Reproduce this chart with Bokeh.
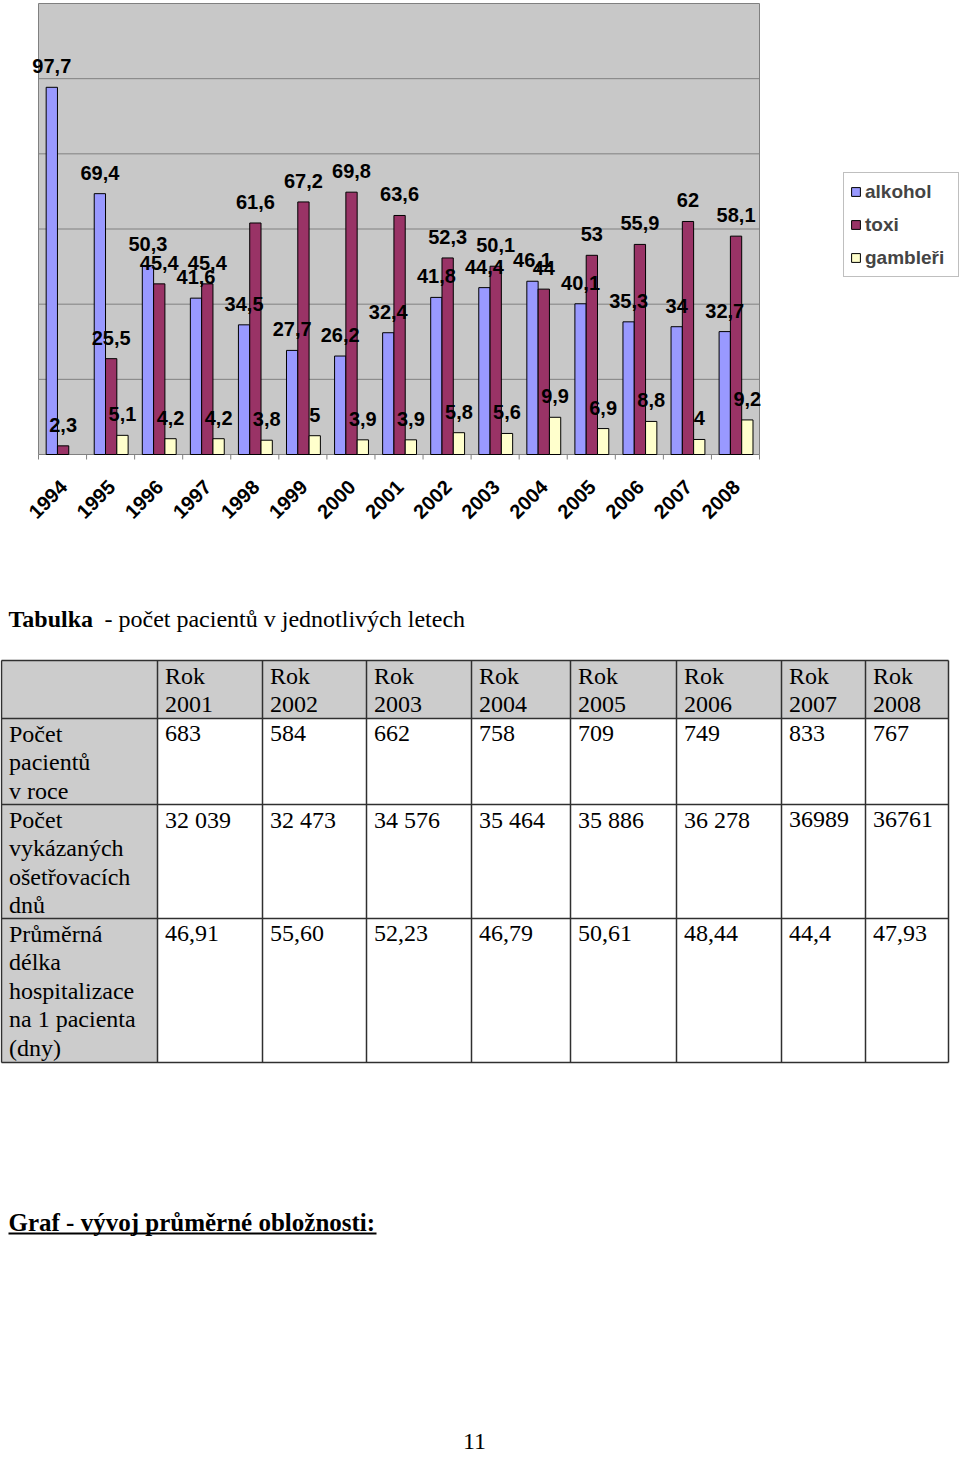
import math
from bokeh.plotting import figure
from bokeh.models import Range1d, Legend, LegendItem, ColumnDataSource
from bokeh.embed import file_html
from bokeh.resources import INLINE
from bokeh.core.properties import value
from bokeh.transform import dodge

# ---------------- data ----------------
roky = ["1994", "1995", "1996", "1997", "1998", "1999", "2000", "2001",
        "2002", "2003", "2004", "2005", "2006", "2007", "2008"]
alkohol = [97.7, 69.4, 50.3, 41.6, 34.5, 27.7, 26.2, 32.4, 41.8, 44.4, 46.1, 40.1, 35.3, 34, 32.7]
toxi = [2.3, 25.5, 45.4, 45.4, 61.6, 67.2, 69.8, 63.6, 52.3, 50.1, 44, 53, 55.9, 62, 58.1]
gambleri = [float("nan"), 5.1, 4.2, 4.2, 3.8, 5, 3.9, 3.9, 5.8, 5.6, 9.9, 6.9, 8.8, 4, 9.2]
serie_nazvy = ["alkohol", "toxi", "gambleři"]
y_mrizka = [20, 40, 60, 80, 100]
y_max = 120

tab_roky = ["2001", "2002", "2003", "2004", "2005", "2006", "2007", "2008"]
tab_pacienti = ["683", "584", "662", "758", "709", "749", "833", "767"]
tab_dny = ["32 039", "32 473", "34 576", "35 464", "35 886", "36 278", "36989", "36761"]
tab_delka = ["46,91", "55,60", "52,23", "46,79", "50,61", "48,44", "44,4", "47,93"]
tab_radky = ["Počet\npacientů\nv roce",
             "Počet\nvykázaných\nošetřovacích\ndnů",
             "Průměrná\ndélka\nhospitalizace\nna 1 pacienta\n(dny)"]

SANS = "Liberation Sans"
SERIF = "Liberation Serif"
MID = 8  # distance from a serif text's baseline to its middle, px

# ---------------- page figure ----------------
W, H = 960, 1458
p = figure(width=W, height=H, x_range=Range1d(0, W), y_range=Range1d(H, 0),
           x_axis_location=None, y_axis_location=None, output_backend="svg",
           toolbar_location=None, min_border=0, outline_line_color=None,
           border_fill_color="white", background_fill_color="white")
p.xgrid.visible = False
p.ygrid.visible = False

# chart area (page pixels) and the chart's own scales
CH_L, CH_R, CH_T, CH_B = 38, 759, 3, 454
n = len(roky)
u = (CH_R - CH_L) / n
v = (CH_B - CH_T) / y_max
p.extra_x_ranges = {"cx": Range1d(-0.5 - CH_L / u, -0.5 + (W - CH_L) / u)}
p.extra_y_ranges = {"cy": Range1d((CH_B - H) / v, CH_B / v)}
C = dict(x_range_name="cx", y_range_name="cy")

# plot area background + border
p.quad(left=[-0.5], right=[n - 0.5], bottom=[0], top=[y_max],
       fill_color="#C8C8C8", line_color="#808080", line_width=1, **C)
# horizontal gridlines
p.segment(x0=[-0.5] * len(y_mrizka), x1=[n - 0.5] * len(y_mrizka), y0=y_mrizka, y1=y_mrizka,
          line_color="#808080", line_width=1, **C)
# category boundary ticks below the axis
tick_x = [i - 0.5 for i in range(n + 1)]
p.segment(x0=tick_x, x1=tick_x, y0=[0] * len(tick_x), y1=[-5 / v] * len(tick_x),
          line_color="#808080", line_width=1, **C)

src = ColumnDataSource(dict(x=list(range(n)), alkohol=alkohol, toxi=toxi, gambleri=gambleri))
offs = [-0.223, 0.012, 0.247]
colors = ["#9999FF", "#993366", "#FFFFCC"]
fields = ["alkohol", "toxi", "gambleri"]
series = [alkohol, toxi, gambleri]
renderers = []
for f, o, c in zip(fields, offs, colors):
    r = p.vbar(x=dodge("x", o), top=f, width=0.235, bottom=0, source=src,
               fill_color=c, line_color="black", line_width=1, **C)
    renderers.append(r)

def fmt(val):
    return f"{val:g}".replace(".", ",")

lx, ly, lt = [], [], []
for vals, o in zip(series, offs):
    for i, val in enumerate(vals):
        if val == val:
            lx.append(i + o)
            ly.append(val)
            lt.append(fmt(val))
p.text(x=lx, y=ly, text=lt, text_align="center", text_baseline="middle", y_offset=-21,
       text_font=value(SANS), text_font_style="bold", text_font_size="20px", text_color="black", **C)

# category labels (rotated)
p.text(x=list(range(n)), y=[0] * n, text=roky, angle=math.pi / 4, text_align="right",
       text_baseline="middle", y_offset=29, x_offset=1,
       text_font=value(SANS), text_font_style="bold", text_font_size="20px", text_color="black", **C)

legend = Legend(items=[LegendItem(label=nm, renderers=[r]) for nm, r in zip(serie_nazvy, renderers)],
                location=(843, H - 277), padding=6, spacing=8, margin=0,
                glyph_width=11, glyph_height=11, label_height=25, label_width=87, label_standoff=4,
                label_text_font=SANS, label_text_font_style="bold", label_text_font_size="19px",
                border_line_color="#808080", border_line_width=1, background_fill_color="white")
p.add_layout(legend, "center")

# ---------------- heading + table ----------------
p.text(x=[8], y=[626 - MID], text=["Tabulka"], text_font=value(SERIF), text_font_style="bold",
       text_font_size="24px", text_baseline="middle", text_color="black")
p.text(x=[104], y=[626 - MID], text=["- počet pacientů v jednotlivých letech"], text_font=value(SERIF),
       text_font_size="24px", text_baseline="middle", text_color="black")

col_edges = [1, 157, 262, 366, 471, 570, 676, 781, 865, 948]
row_edges = [660, 718, 804, 918, 1062]
GRAY = "#CCCCCC"
p.quad(left=[col_edges[0]], right=[col_edges[-1]], top=[row_edges[0]], bottom=[row_edges[1]],
       fill_color=GRAY, line_color=None)
p.quad(left=[col_edges[0]], right=[col_edges[1]], top=[row_edges[1]], bottom=[row_edges[-1]],
       fill_color=GRAY, line_color=None)
xs0 = list(col_edges) + [col_edges[0]] * len(row_edges)
xs1 = list(col_edges) + [col_edges[-1]] * len(row_edges)
ys0 = [row_edges[0]] * len(col_edges) + row_edges
ys1 = [row_edges[-1]] * len(col_edges) + row_edges
p.segment(x0=xs0, y0=ys0, x1=xs1, y1=ys1, line_color="#303030", line_width=1.5)

LH = 28.5
tx, ty, tt = [], [], []
def cell(ci, ri, txt):
    for k, line in enumerate(txt.split("\n")):
        tx.append(col_edges[ci] + 7.5)
        ty.append(row_edges[ri] + 23 + k * LH - MID)
        tt.append(line)

for j, r in enumerate(tab_roky):
    cell(j + 1, 0, "Rok\n" + r)
for i, lab in enumerate(tab_radky):
    cell(0, i + 1, lab)
for ri, vals in enumerate([tab_pacienti, tab_dny, tab_delka]):
    for j, val in enumerate(vals):
        cell(j + 1, ri + 1, val)
p.text(x=tx, y=ty, text=tt, text_font=value(SERIF), text_font_size="24px",
       text_baseline="middle", text_align="left", text_color="black")

# second heading (underlined)
p.text(x=[8], y=[1230 - MID], text=["Graf  - vývoj průměrné obložnosti:"], text_font=value(SERIF),
       text_font_style="bold", text_font_size="25px", text_baseline="middle", text_color="black")
p.segment(x0=[8], y0=[1233], x1=[376], y1=[1233], line_color="black", line_width=2)

# page number
p.text(x=[474], y=[1441], text=["11"], text_font=value(SERIF), text_font_size="24px",
       text_baseline="middle", text_align="center", text_color="black")

open("out.html", "w").write(file_html(p, INLINE))
